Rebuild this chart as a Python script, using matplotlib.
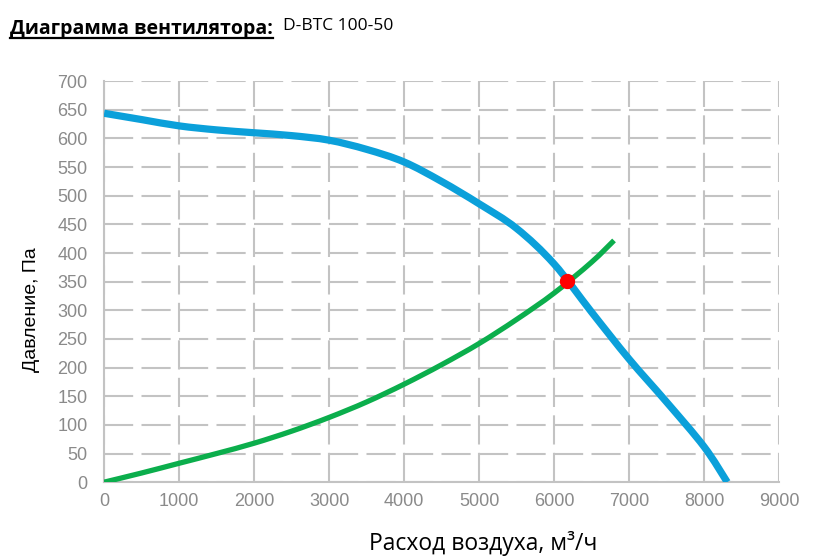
import numpy as np
import matplotlib
matplotlib.use('Agg')
import matplotlib.pyplot as plt
from matplotlib.lines import Line2D
from matplotlib.path import Path
from matplotlib.patches import PathPatch

# fan curve (blue)
fan_q = [0, 500, 1000, 1500, 2000, 2500, 3000, 3500, 4000, 4500, 5000, 5500, 6000, 6500, 7000, 7500, 8000, 8310]
fan_p = [644, 633, 622, 615, 610, 605, 597, 581, 559, 525, 486, 443, 381, 297, 215, 140, 62, 0]

# system curve (green)
sys_q = [0, 500, 1000, 1500, 2000, 2500, 3000, 3500, 4000, 4500, 5000, 5500, 6000, 6500, 6800]
sys_p = [0, 16, 33, 50, 68, 89, 113, 140, 171, 205, 242, 284, 330, 384, 422]

# working point
work_q = [6175]
work_p = [352]

x_ticks = list(range(0, 9001, 1000))
y_ticks = list(range(0, 701, 50))

title_text = 'Диаграмма вентилятора:'
model_text = 'D-BTC 100-50'
xlabel_text = 'Расход воздуха, м³/ч'
ylabel_text = 'Давление, Па'


def smooth_path(xs, ys):
    # smoothed line like in Excel (Catmull-Rom drawn as bezier segments)
    pts = np.column_stack([xs, ys]).astype(float)
    verts = [pts[0]]
    codes = [Path.MOVETO]
    n = len(pts)
    for i in range(n - 1):
        p0 = pts[i - 1] if i > 0 else pts[i]
        p1 = pts[i]
        p2 = pts[i + 1]
        p3 = pts[i + 2] if i + 2 < n else pts[i + 1]
        verts += [p1 + (p2 - p0) / 6, p2 - (p3 - p1) / 6, p2]
        codes += [Path.CURVE4] * 3
    return Path(verts, codes)


plt.rcParams['font.family'] = ['Liberation Sans', 'DejaVu Sans']
plt.rcParams['lines.scale_dashes'] = False

fig = plt.figure(figsize=(8.2, 5.6), dpi=100)
ax = fig.add_axes([0.127, 0.139, 0.823, 0.716])

grid_col = '#c3c3c3'
ax.set_xlim(0, 9000)
ax.set_ylim(0, 700)
ax.set_xticks(x_ticks)
ax.set_yticks(y_ticks)
ax.grid(True, color=grid_col, linewidth=1.5, linestyle=(0, (21, 6)))
ax.set_axisbelow(True)
for s in ['top', 'right']:
    ax.spines[s].set_visible(False)
for s in ['left', 'bottom']:
    ax.spines[s].set_color(grid_col)
    ax.spines[s].set_linewidth(1.5)
ax.tick_params(axis='both', length=0, labelsize=13, labelcolor='#8a8a8a')
ax.tick_params(axis='y', pad=12)
ax.tick_params(axis='x', pad=8)

ax.add_patch(PathPatch(smooth_path(fan_q, fan_p), fill=False, edgecolor='#0ba0da',
                       linewidth=5.2, capstyle='butt', joinstyle='round', zorder=3))
ax.add_patch(PathPatch(smooth_path(sys_q, sys_p), fill=False, edgecolor='#0bae4c',
                       linewidth=3.8, capstyle='butt', joinstyle='round', zorder=4))
ax.plot(work_q, work_p, 'o', color='#ff0000', markersize=10, zorder=5)

ax.text(0.561, -0.152, xlabel_text, transform=ax.transAxes, ha='center', va='center',
        fontsize=16.5, family=['Open Sans', 'DejaVu Sans'])
ax.text(-0.107, 0.431, ylabel_text, transform=ax.transAxes, ha='center', va='center',
        rotation=90, fontsize=14)

t = fig.text(10 / 820, 1 - 29 / 560, title_text, ha='left', va='center', fontsize=14,
             fontweight='bold', family=['Open Sans', 'DejaVu Sans'])
fig.text(283 / 820, 1 - 26 / 560, model_text, ha='left', va='center', fontsize=12.5,
         family=['Open Sans', 'DejaVu Sans'])

# underline the title
fig.canvas.draw()
bb = t.get_window_extent(fig.canvas.get_renderer())
W, H = fig.bbox.width, fig.bbox.height
uy = (bb.y0 + 1) / H
fig.add_artist(Line2D([bb.x0 / W, bb.x1 / W], [uy, uy], color='black', linewidth=1.6,
                      transform=fig.transFigure))

fig.savefig('out.png', dpi=100)
